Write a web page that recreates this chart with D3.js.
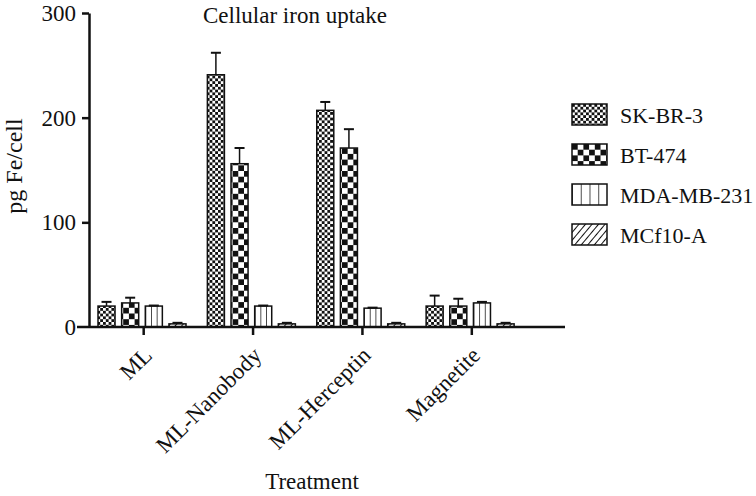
<!DOCTYPE html>
<html>
<head>
<meta charset="utf-8">
<script src="https://cdn.jsdelivr.net/npm/d3@7"></script>
<style>
  body { margin: 0; background: #fff; }
  text { font-family: "Liberation Serif", "Times New Roman", serif; fill: #111; }
</style>
</head>
<body>
<svg id="chart" width="756" height="496"></svg>
<script>
// data
const treatments = ["ML", "ML-Nanobody", "ML-Herceptin", "Magnetite"];
const cellLines = ["SK-BR-3", "BT-474", "MDA-MB-231", "MCf10-A"];
// mean values per cell line (one value per treatment)
const skbr3 = [20, 241, 207, 20];
const bt474 = [23, 156, 171, 20];
const mdamb231 = [20, 20, 18, 23];
const mcf10a = [3, 3, 3, 3];
// upper error (mean + sd)
const skbr3Err = [24, 262, 215, 30];
const bt474Err = [28, 171, 189, 27];
const mdamb231Err = [20.5, 20.5, 18.5, 24];
const mcf10aErr = [4, 4, 4, 4];
const yTicks = [0, 100, 200, 300];

const means = [skbr3, bt474, mdamb231, mcf10a];
const errs = [skbr3Err, bt474Err, mdamb231Err, mcf10aErr];
const patternIds = ["pSK", "pBT", "pMDA", "pMCF"];
const legendPatternIds = ["pSK", "pBT", "pMDAleg", "pMCF"];

const svg = d3.select("#chart");

// patterns
const defs = svg.append("defs");

let p = defs.append("pattern").attr("id", "pSK")
  .attr("patternUnits", "userSpaceOnUse").attr("width", 5.6).attr("height", 5.6);
p.append("rect").attr("width", 5.6).attr("height", 5.6).attr("fill", "#fff");
p.append("rect").attr("width", 2.8).attr("height", 2.8).attr("fill", "#111");
p.append("rect").attr("x", 2.8).attr("y", 2.8).attr("width", 2.8).attr("height", 2.8).attr("fill", "#111");

p = defs.append("pattern").attr("id", "pBT")
  .attr("patternUnits", "userSpaceOnUse").attr("width", 11.4).attr("height", 11.4);
p.append("rect").attr("width", 11.4).attr("height", 11.4).attr("fill", "#fff");
p.append("rect").attr("width", 5.7).attr("height", 5.7).attr("fill", "#111");
p.append("rect").attr("x", 5.7).attr("y", 5.7).attr("width", 5.7).attr("height", 5.7).attr("fill", "#111");

p = defs.append("pattern").attr("id", "pMDA")
  .attr("patternUnits", "objectBoundingBox").attr("width", 1 / 3).attr("height", 1);
p.append("rect").attr("width", 20).attr("height", 600).attr("fill", "#fff");
p.append("line").attr("x1", 0).attr("x2", 0).attr("y1", 0).attr("y2", 600)
  .attr("stroke", "#111").attr("stroke-width", 1.5);

p = defs.append("pattern").attr("id", "pMDAleg")
  .attr("patternUnits", "objectBoundingBox").attr("width", 0.25).attr("height", 1);
p.append("rect").attr("width", 20).attr("height", 600).attr("fill", "#fff");
p.append("line").attr("x1", 0).attr("x2", 0).attr("y1", 0).attr("y2", 600)
  .attr("stroke", "#111").attr("stroke-width", 1.5);

p = defs.append("pattern").attr("id", "pMCF")
  .attr("patternUnits", "userSpaceOnUse").attr("width", 5).attr("height", 5)
  .attr("patternTransform", "rotate(40)");
p.append("rect").attr("width", 5).attr("height", 5).attr("fill", "#fff");
p.append("line").attr("x1", 0).attr("x2", 0).attr("y1", 0).attr("y2", 5)
  .attr("stroke", "#111").attr("stroke-width", 2);

// scales
const y = d3.scaleLinear().domain([0, 300]).range([327, 13]);
const x = d3.scaleBand().domain(treatments).range([89, 526.5]);
const xs = d3.scaleBand().domain(cellLines).range([9, 97]).paddingInner(0.28);

// bars
const groups = svg.append("g").selectAll("g")
  .data(treatments)
  .join("g")
  .attr("transform", d => `translate(${x(d)},0)`);

cellLines.forEach(function (line, si) {
  groups.append("rect")
    .attr("x", xs(line))
    .attr("width", xs.bandwidth())
    .attr("y", (d, i) => y(means[si][i]))
    .attr("height", (d, i) => y(0) - y(means[si][i]))
    .attr("fill", `url(#${patternIds[si]})`)
    .attr("stroke", "#111")
    .attr("stroke-width", 1.5);

  // upper error bar
  groups.append("line")
    .attr("x1", xs(line) + xs.bandwidth() / 2)
    .attr("x2", xs(line) + xs.bandwidth() / 2)
    .attr("y1", (d, i) => y(means[si][i]))
    .attr("y2", (d, i) => y(errs[si][i]))
    .attr("stroke", "#111").attr("stroke-width", 1.5);
  groups.append("line")
    .attr("x1", xs(line) + xs.bandwidth() / 2 - 5)
    .attr("x2", xs(line) + xs.bandwidth() / 2 + 5)
    .attr("y1", (d, i) => y(errs[si][i]))
    .attr("y2", (d, i) => y(errs[si][i]))
    .attr("stroke", "#111").attr("stroke-width", 2);
});

// y axis
const yAxis = svg.append("g")
  .attr("transform", "translate(89,0)")
  .call(d3.axisLeft(y).tickValues(yTicks).tickSize(7).tickSizeOuter(0).tickPadding(6));
yAxis.select(".domain").attr("stroke", "#111").attr("stroke-width", 2.5);
yAxis.selectAll(".tick line").attr("stroke", "#111").attr("stroke-width", 2.5);
yAxis.selectAll(".tick text")
  .style("font-family", "'Liberation Serif', serif").style("font-size", "23px").attr("fill", "#111");
// the x axis line covers the 0 tick
yAxis.selectAll(".tick").filter(d => d === 0).select("line").remove();

// x axis
svg.append("line")
  .attr("x1", 77).attr("x2", 565)
  .attr("y1", y(0)).attr("y2", y(0))
  .attr("stroke", "#111").attr("stroke-width", 2.5);

svg.append("g").selectAll("line")
  .data(treatments)
  .join("line")
  .attr("x1", d => x(d) + x.bandwidth() / 2)
  .attr("x2", d => x(d) + x.bandwidth() / 2)
  .attr("y1", y(0))
  .attr("y2", y(0) + 8)
  .attr("stroke", "#111").attr("stroke-width", 2.5);

svg.append("g").selectAll("text")
  .data(treatments)
  .join("text")
  .attr("transform", d => `translate(${x(d) + x.bandwidth() / 2 + 4},${y(0) + 24}) rotate(-45)`)
  .attr("text-anchor", "end")
  .attr("dy", "0.35em")
  .style("font-size", "23px")
  .text(d => d);

// titles
svg.append("text")
  .attr("x", 295).attr("y", 23)
  .attr("text-anchor", "middle")
  .style("font-size", "23px")
  .text("Cellular iron uptake");

svg.append("text")
  .attr("transform", "translate(22,166) rotate(-90)")
  .attr("text-anchor", "middle")
  .style("font-size", "24px")
  .text("pg Fe/cell");

svg.append("text")
  .attr("x", 312).attr("y", 489)
  .attr("text-anchor", "middle")
  .style("font-size", "23px")
  .text("Treatment");

// legend
const legend = svg.append("g").selectAll("g")
  .data(cellLines)
  .join("g")
  .attr("transform", (d, i) => `translate(572,${104 + i * 40})`);

legend.append("rect")
  .attr("width", 35).attr("height", 21)
  .attr("fill", (d, i) => `url(#${legendPatternIds[i]})`)
  .attr("stroke", "#111").attr("stroke-width", 1.5);

legend.append("text")
  .attr("x", 48).attr("y", 11)
  .attr("dy", "0.35em")
  .style("font-size", "22px")
  .text(d => d);
</script>
</body>
</html>
